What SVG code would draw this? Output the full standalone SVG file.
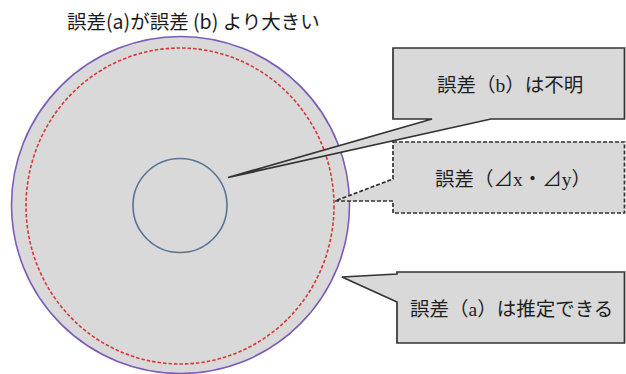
<svg xmlns="http://www.w3.org/2000/svg" width="626" height="374" viewBox="0 0 626 374">
<style>
.t{font-family:"Liberation Serif","Noto Sans CJK JP",serif;font-size:19.5px;fill:#1e1e1e}
.title{font-family:"Noto Sans CJK JP","Noto Sans",sans-serif;font-size:19.5px;fill:#1a1a1a}
.box{fill:#d9d9d9;stroke:#333;stroke-width:1.7}
.dash{stroke-dasharray:4 2}
</style>
<rect width="626" height="374" fill="#fff"/>
<g id="title"><text class="title" x="67" y="29">誤差(a)が誤差 (b) より大きい</text></g>
<g id="circles">
<ellipse cx="180.5" cy="205" rx="169" ry="168.5" fill="#d9d9d9" stroke="#7c5cb8" stroke-width="1.6"/>
<ellipse cx="180" cy="206" rx="154" ry="158" fill="none" stroke="#d83838" stroke-width="1.6" stroke-dasharray="3.5 2"/>
<circle cx="180" cy="205.5" r="47" fill="none" stroke="#587492" stroke-width="1.6"/>
</g>
<g id="connectors">
<g id="callout-b">
<path class="box" d="M393,48 H624.5 V119 H491 L228,177.5 L432,119 H393 Z"/>
<text class="t" x="437" y="92">誤差（b）は不明</text>
</g>
<g id="callout-d">
<path class="box dash" d="M393,142 H624.5 V213 H393 V201 L335,201 L393,179 Z"/>
<text class="t" x="435" y="186" font-size="18.5">誤差（⊿x・⊿y）</text>
</g>
<g id="callout-a">
<path class="box" d="M397,272 H624.5 V343 H397 V302 L342,277 L397,274 Z"/>
<text class="t" x="410" y="316">誤差（a）は推定できる</text>
</g>
</g>
</svg>
